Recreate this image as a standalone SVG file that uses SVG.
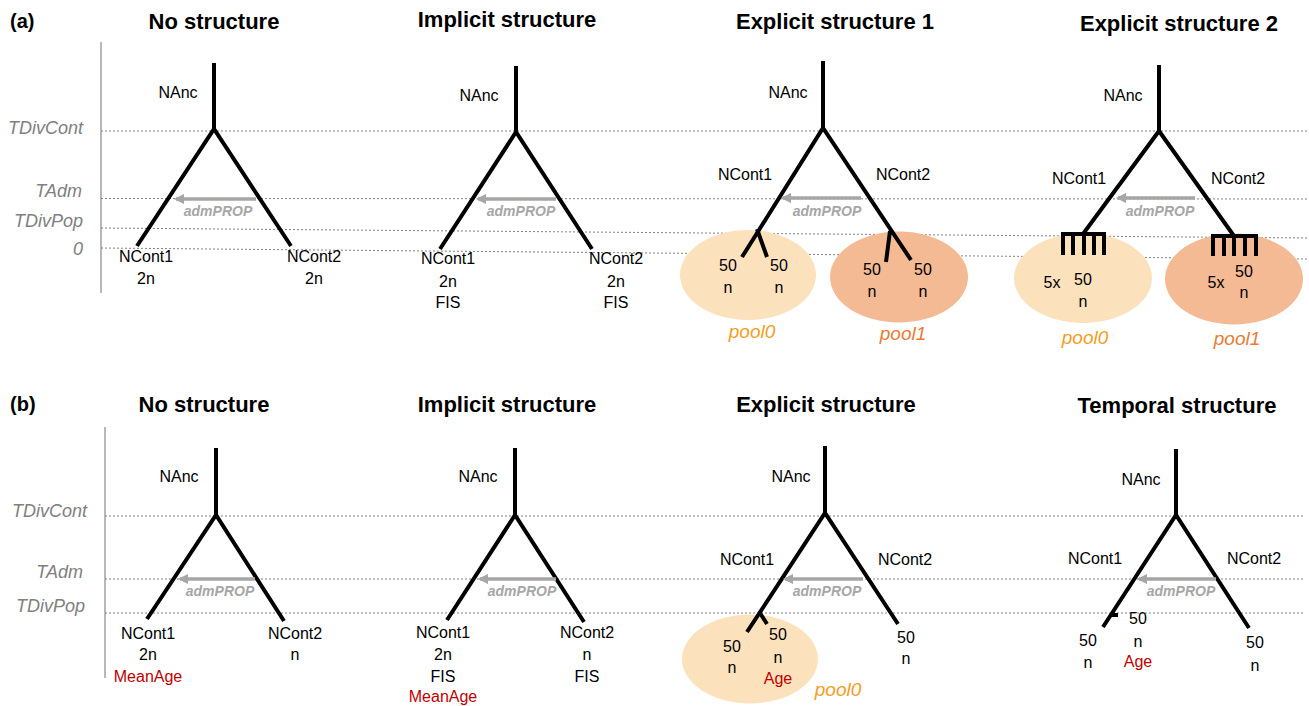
<svg xmlns="http://www.w3.org/2000/svg" width="1309" height="706" viewBox="0 0 1309 706">
<style>
text{font-family:"Liberation Sans",Arial,sans-serif}
.title{font-size:22px;font-weight:bold;fill:#000;text-anchor:middle}
.panel{font-size:20px;font-weight:bold;fill:#000}
.axl{font-size:18px;font-style:italic;fill:#808080;text-anchor:end}
.lbl{font-size:16px;fill:#000;text-anchor:middle}
.red{font-size:16px;fill:#C00000;text-anchor:middle}
.adm{font-size:14px;font-style:italic;font-weight:bold;fill:#A6A6A6;text-anchor:middle}
.p0t{font-size:19px;font-style:italic;fill:#F59E1E;text-anchor:middle}
.p1t{font-size:19px;font-style:italic;fill:#E97C34;text-anchor:middle}
.tree{fill:none;stroke:#000;stroke-width:4;stroke-linejoin:miter;stroke-linecap:butt}
.dot{stroke:#808080;stroke-width:1;stroke-dasharray:2 2;fill:none}
.axis{stroke:#A0A0A0;stroke-width:1.5}
.arr{stroke:#A6A6A6;stroke-width:3.5;marker-end:url(#ah)}
.p0{fill:#FBE2BC}
.p1{fill:#F4BA94}
</style>
<defs>
<marker id="ah" viewBox="0 0 10 10" refX="8" refY="5" markerWidth="3" markerHeight="3" orient="auto" markerUnits="strokeWidth">
<path d="M0,0 L10,5 L0,10 z" fill="#A6A6A6"/>
</marker>
</defs>

<!-- Panel (a) frame -->
<g id="panel-a">
<text class="panel" x="10" y="28">(a)</text>
<line class="axis" x1="101" y1="42" x2="101" y2="293"/>
<line class="dot" x1="101" y1="131" x2="1309" y2="131"/>
<line class="dot" x1="101" y1="198.5" x2="1309" y2="199"/>
<line class="dot" x1="101" y1="228" x2="1309" y2="238"/>
<line class="dot" x1="101" y1="248" x2="1309" y2="259"/>
<text class="axl" x="83" y="134">TDivCont</text>
<text class="axl" x="82" y="197">TAdm</text>
<text class="axl" x="83" y="227">TDivPop</text>
<text class="axl" x="83" y="255">0</text>
<text class="title" x="214" y="29">No structure</text>
<text class="title" x="507" y="27">Implicit structure</text>
<text class="title" x="835" y="29">Explicit structure 1</text>
<text class="title" x="1179" y="31">Explicit structure 2</text>
</g>

<!-- Panel (b) frame -->
<g id="panel-b">
<text class="panel" x="10" y="411">(b)</text>
<line class="axis" x1="105" y1="427" x2="105" y2="678"/>
<line class="dot" x1="105" y1="516" x2="1305" y2="516"/>
<line class="dot" x1="105" y1="579" x2="1305" y2="579"/>
<line class="dot" x1="105" y1="613" x2="1305" y2="613"/>
<text class="axl" x="87" y="517">TDivCont</text>
<text class="axl" x="83" y="578">TAdm</text>
<text class="axl" x="85" y="612">TDivPop</text>
<text class="title" x="204" y="412">No structure</text>
<text class="title" x="507" y="412">Implicit structure</text>
<text class="title" x="826" y="412">Explicit structure</text>
<text class="title" x="1177" y="413">Temporal structure</text>
</g>

<!-- (a) No structure -->
<g id="a1">
<path class="tree" d="M214,63 L214,131 M137,246 L214,129 L291,246"/>
<text class="lbl" x="178" y="98">NAnc</text>
<text class="lbl" x="146" y="262">NCont1</text>
<text class="lbl" x="146" y="284">2n</text>
<text class="lbl" x="314" y="262">NCont2</text>
<text class="lbl" x="314" y="284">2n</text>
<text class="adm" x="218" y="216">admPROP</text>
</g>

<!-- (a) Implicit structure -->
<g id="a2">
<path class="tree" d="M516,66 L516,134 M440,249 L516,132 L592,249"/>
<text class="lbl" x="479" y="101">NAnc</text>
<text class="lbl" x="448" y="264">NCont1</text>
<text class="lbl" x="448" y="287">2n</text>
<text class="lbl" x="448" y="308">FIS</text>
<text class="lbl" x="616" y="264">NCont2</text>
<text class="lbl" x="616" y="287">2n</text>
<text class="lbl" x="616" y="308">FIS</text>
<text class="adm" x="521" y="216">admPROP</text>
</g>

<!-- (a) Explicit structure 1 -->
<g id="a3">
<ellipse class="p0" cx="748" cy="275" rx="68" ry="45"/>
<ellipse class="p1" cx="899" cy="277" rx="69" ry="45.5"/>
<path class="tree" d="M823,61 L823,130 M742,257 L823,128 L911,260 M757,229 L767,257 M890,231 L886,262"/>
<text class="lbl" x="788" y="98">NAnc</text>
<text class="lbl" x="745" y="180">NCont1</text>
<text class="lbl" x="903" y="180">NCont2</text>
<text class="adm" x="827" y="216">admPROP</text>
<text class="lbl" x="728" y="271">50</text>
<text class="lbl" x="728" y="293">n</text>
<text class="lbl" x="779" y="271">50</text>
<text class="lbl" x="779" y="293">n</text>
<text class="lbl" x="872" y="275">50</text>
<text class="lbl" x="872" y="297">n</text>
<text class="lbl" x="923" y="275">50</text>
<text class="lbl" x="923" y="297">n</text>
<text class="p0t" x="752" y="338">pool0</text>
<text class="p1t" x="903" y="340">pool1</text>
</g>

<!-- (a) Explicit structure 2 -->
<g id="a4">
<ellipse class="p0" cx="1083" cy="278" rx="69" ry="45"/>
<ellipse class="p1" cx="1234" cy="279" rx="69" ry="45.5"/>
<path class="tree" d="M1159,65 L1159,133 M1083,234 L1159,131 L1234,236"/>
<path class="tree" d="M1063,255 L1063,234 L1104,234 L1104,255 M1073,234 L1073,255 M1084,234 L1084,255 M1094,234 L1094,255"/>
<path class="tree" d="M1213,256 L1213,236 L1256,236 L1256,256 M1224,236 L1224,256 M1234,236 L1234,256 M1245,236 L1245,256"/>
<text class="lbl" x="1123" y="101">NAnc</text>
<text class="lbl" x="1079" y="184">NCont1</text>
<text class="lbl" x="1238" y="184">NCont2</text>
<text class="adm" x="1160" y="216">admPROP</text>
<text class="lbl" x="1052" y="288">5x</text>
<text class="lbl" x="1083" y="285">50</text>
<text class="lbl" x="1083" y="307">n</text>
<text class="lbl" x="1216" y="288">5x</text>
<text class="lbl" x="1244" y="277">50</text>
<text class="lbl" x="1244" y="298">n</text>
<text class="p0t" x="1085" y="344">pool0</text>
<text class="p1t" x="1237" y="345">pool1</text>
</g>

<!-- (b) No structure -->
<g id="b1">
<path class="tree" d="M216,448 L216,517 M147,619 L216,515 L284,621"/>
<text class="lbl" x="179" y="482">NAnc</text>
<text class="lbl" x="148" y="639">NCont1</text>
<text class="lbl" x="148" y="660">2n</text>
<text class="red" x="148" y="682">MeanAge</text>
<text class="lbl" x="295" y="639">NCont2</text>
<text class="lbl" x="295" y="660">n</text>
<text class="adm" x="220" y="596">admPROP</text>
</g>

<!-- (b) Implicit structure -->
<g id="b2">
<path class="tree" d="M515,448 L515,517 M447,620 L515,515 L584,622"/>
<text class="lbl" x="478" y="482">NAnc</text>
<text class="lbl" x="443" y="638">NCont1</text>
<text class="lbl" x="443" y="660">2n</text>
<text class="lbl" x="443" y="682">FIS</text>
<text class="red" x="443" y="702">MeanAge</text>
<text class="lbl" x="587" y="638">NCont2</text>
<text class="lbl" x="587" y="660">n</text>
<text class="lbl" x="587" y="682">FIS</text>
<text class="adm" x="522" y="596">admPROP</text>
</g>

<!-- (b) Explicit structure -->
<g id="b3">
<ellipse class="p0" cx="750" cy="659" rx="68" ry="44.5"/>
<path class="tree" d="M825,446 L825,515 M747,632 L825,513 L898,624 M760,613 L767,624"/>
<text class="lbl" x="791" y="482">NAnc</text>
<text class="lbl" x="747" y="565">NCont1</text>
<text class="lbl" x="905" y="565">NCont2</text>
<text class="adm" x="827" y="596">admPROP</text>
<text class="lbl" x="732" y="652">50</text>
<text class="lbl" x="732" y="673">n</text>
<text class="lbl" x="778" y="640">50</text>
<text class="lbl" x="778" y="663">n</text>
<text class="red" x="778" y="684">Age</text>
<text class="lbl" x="906" y="643">50</text>
<text class="lbl" x="906" y="664">n</text>
<text class="p0t" x="838" y="696">pool0</text>
</g>

<!-- (b) Temporal structure -->
<g id="b4">
<path class="tree" d="M1176,449 L1176,517 M1103,627 L1176,515 L1249,628 M1111,615 L1118,615"/>
<text class="lbl" x="1141" y="485">NAnc</text>
<text class="lbl" x="1095" y="564">NCont1</text>
<text class="lbl" x="1254" y="564">NCont2</text>
<text class="adm" x="1181" y="596">admPROP</text>
<text class="lbl" x="1138" y="624">50</text>
<text class="lbl" x="1138" y="647">n</text>
<text class="red" x="1138" y="667">Age</text>
<text class="lbl" x="1088" y="646">50</text>
<text class="lbl" x="1088" y="668">n</text>
<text class="lbl" x="1255" y="648">50</text>
<text class="lbl" x="1255" y="671">n</text>
</g>

<!-- connectors: admixture arrows -->
<g id="connectors">
<line class="arr" x1="256" y1="199" x2="176" y2="199"/>
<line class="arr" x1="556" y1="199" x2="478" y2="199"/>
<line class="arr" x1="861" y1="198" x2="783" y2="198"/>
<line class="arr" x1="1195" y1="198" x2="1118" y2="198"/>
<line class="arr" x1="255" y1="579" x2="180" y2="579"/>
<line class="arr" x1="556" y1="579" x2="480" y2="579"/>
<line class="arr" x1="863" y1="579" x2="785" y2="579"/>
<line class="arr" x1="1216" y1="579" x2="1139" y2="579"/>
</g>
</svg>
